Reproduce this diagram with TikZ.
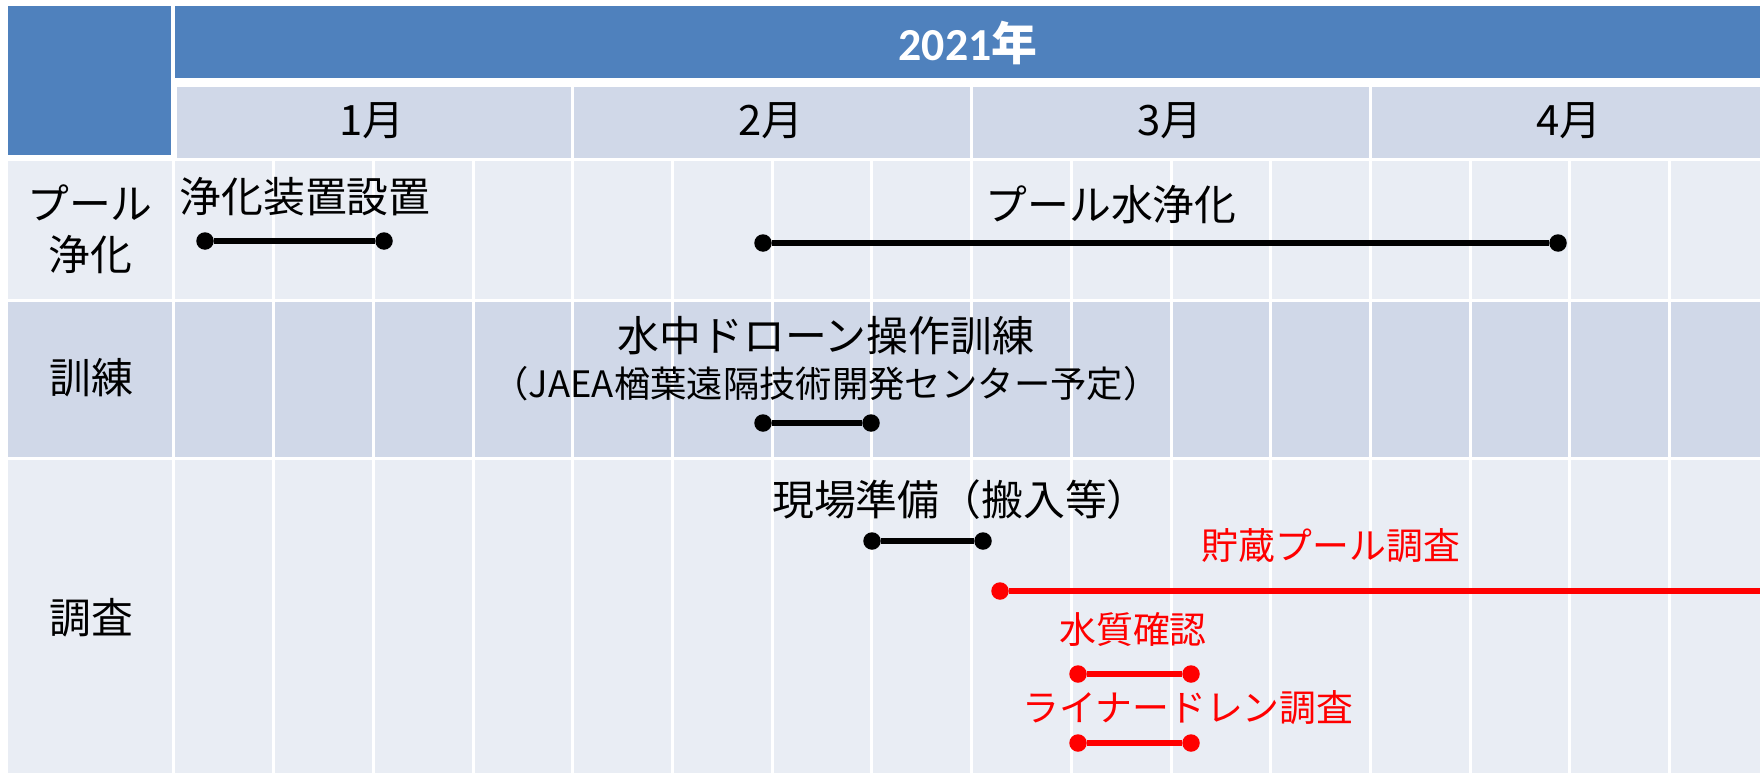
\documentclass[tikz,border=0pt]{standalone}
\usepackage{fontspec}
\setmainfont{Noto Sans CJK JP}
\newfontfamily\carlito{Carlito}
\definecolor{hdrblue}{HTML}{4F81BD}
\definecolor{rowdark}{HTML}{D0D8E8}
\definecolor{rowlight}{HTML}{E9EDF4}
\definecolor{barred}{HTML}{FF0000}
\begin{document}
\begin{tikzpicture}[x=1bp,y=-1bp,
  gridline/.style={white,line width=3bp},
  txt/.style={inner sep=0pt,font=\fontsize{42}{51}\selectfont},
  smalltxt/.style={inner sep=0pt,font=\fontsize{36.5}{44}\selectfont},
  redtxt/.style={inner sep=0pt,text=barred,font=\fontsize{37}{44}\selectfont},
  dot/.style={circle,fill,inner sep=0pt,minimum size=17.5bp},
  bar/.style={line width=5.5bp},
]
\useasboundingbox (0,0) rectangle (1760,773);
\fill[white] (0,0) rectangle (1760,773);
% header
\fill[hdrblue] (8,6) rectangle (171,155);
\fill[hdrblue] (175,6) rectangle (1760,78);
\fill[rowdark] (177,87) rectangle (1760,158);
% rows
\fill[rowlight] (8,161) rectangle (1760,299);
\fill[rowdark] (8,302) rectangle (1760,457);
\fill[rowlight] (8,460) rectangle (1760,773);
% grid lines
\draw[gridline] (173.5,160) -- (173.5,773);
\foreach \k in {1,...,15} \draw[gridline] ({174+99.7*\k},160) -- ({174+99.7*\k},773);
\foreach \k in {4,8,12} \draw[gridline] ({174+99.7*\k},87) -- ({174+99.7*\k},158);
% header texts
\node[inner sep=0pt,text=white,font=\fontsize{46}{52}\selectfont\bfseries] (year) at (968,43) {{\carlito 2021}年};
\node[txt] (m1) at (372,121) {1月};
\node[txt] (m2) at (771,121) {2月};
\node[txt] (m3) at (1170,121) {3月};
\node[txt] (m4) at (1569,121) {4月};
% row labels
\node[txt,align=center] (l1) at (90,229.5) {プール\\浄化};
\node[txt] (l2) at (91,378) {訓練};
\node[txt] (l3) at (91,618) {調査};
% row 1
\node[txt] (t1) at (305,197) {浄化装置設置};
\node[dot] (a1) at (205,241) {};
\node[dot] (a2) at (384,241) {};
\draw[bar] (a1) -- (a2);
\node[txt] (t2) at (1111,205) {プール水浄化};
\node[dot] (b1) at (763,243) {};
\node[dot] (b2) at (1558,243) {};
\draw[bar] (b1) -- (b2);
% row 2
\node[txt] (t3) at (826,336) {水中ドローン操作訓練};
\node[smalltxt] (t4) at (826,384) {（JAEA楢葉遠隔技術開発センター予定）};
\node[dot] (c1) at (763,423) {};
\node[dot] (c2) at (871,423) {};
\draw[bar] (c1) -- (c2);
% row 3
\node[txt,anchor=west] (t5) at (772,500) {現場準備（搬入等）};
\node[dot] (d1) at (872,541) {};
\node[dot] (d2) at (983,541) {};
\draw[bar] (d1) -- (d2);
\node[redtxt] (t6) at (1331,546) {貯蔵プール調査};
\node[dot,barred] (e1) at (1000,591) {};
\coordinate (e2) at (1762,591);
\draw[bar,barred] (e1) -- (e2);
\node[redtxt] (t7) at (1133,630) {水質確認};
\node[dot,barred] (f1) at (1078,674) {};
\node[dot,barred] (f2) at (1191,674) {};
\draw[bar,barred] (f1) -- (f2);
\node[redtxt] (t8) at (1188,708) {ライナードレン調査};
\node[dot,barred] (g1) at (1078,743) {};
\node[dot,barred] (g2) at (1191,743) {};
\draw[bar,barred] (g1) -- (g2);
\end{tikzpicture}
\end{document}
